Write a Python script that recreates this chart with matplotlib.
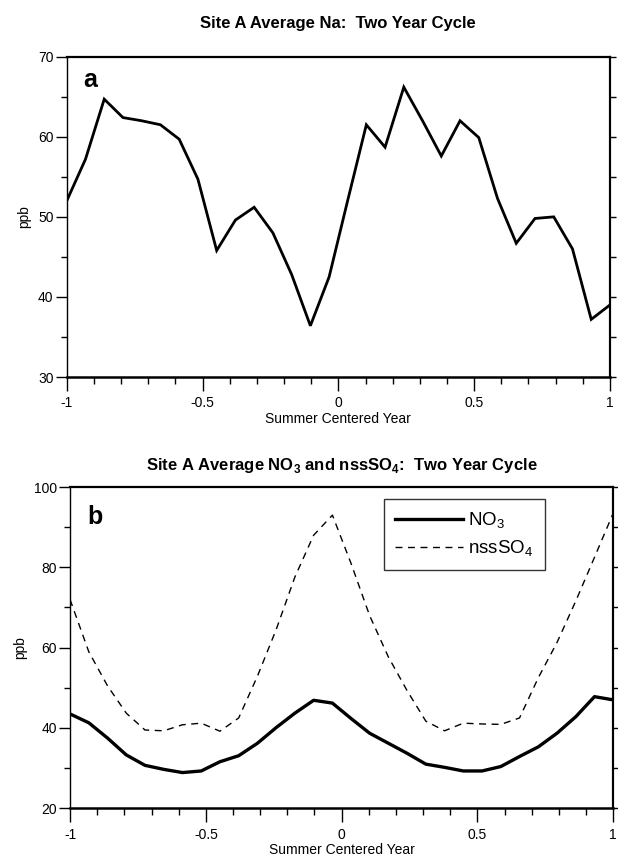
import numpy as np
import matplotlib
matplotlib.use("Agg")
import matplotlib.pyplot as plt
from matplotlib.ticker import MultipleLocator

plt.rcParams['font.family'] = ['Liberation Sans', 'DejaVu Sans']
plt.rcParams['mathtext.fontset'] = 'custom'
plt.rcParams['mathtext.rm'] = 'Liberation Sans'
plt.rcParams['mathtext.bf'] = 'Liberation Sans:bold'

# summer centered year, 30 samples over the two year cycle
year = [-1.0, -0.931, -0.862, -0.793, -0.724, -0.655, -0.586, -0.517, -0.448, -0.379,
        -0.310, -0.241, -0.172, -0.103, -0.034, 0.034, 0.103, 0.172, 0.241, 0.310,
        0.379, 0.448, 0.517, 0.586, 0.655, 0.724, 0.793, 0.862, 0.931, 1.0]

# site A average Na (ppb)
na = [52.0, 57.2, 64.7, 62.4, 62.0, 61.5, 59.7, 54.7, 45.8, 49.6,
      51.2, 48.0, 42.8, 36.4, 42.5, 52.0, 61.5, 58.7, 66.2, 62.0,
      57.6, 62.0, 59.9, 52.3, 46.7, 49.8, 50.0, 46.0, 37.2, 39.0]

# site A average NO3 and nssSO4 (ppb)
no3 = [43.5, 41.3, 37.5, 33.3, 30.7, 29.7, 28.9, 29.3, 31.6, 33.1,
       36.2, 40.1, 43.7, 46.9, 46.2, 42.4, 38.7, 36.2, 33.7, 31.0,
       30.2, 29.3, 29.3, 30.4, 32.9, 35.3, 38.7, 42.8, 47.8, 47.0]
nsso4 = [72.0, 59.0, 50.5, 43.7, 39.5, 39.3, 40.8, 41.2, 39.2, 42.5,
         52.9, 64.5, 77.6, 88.0, 93.0, 81.1, 68.0, 57.7, 49.3, 41.7,
         39.3, 41.2, 41.0, 40.9, 42.5, 52.5, 61.3, 71.6, 82.5, 93.5]

fig = plt.figure(figsize=(6.18, 8.58), dpi=100)
ax1 = fig.add_axes([0.108, 0.5606, 0.879, 0.3733])
ax2 = fig.add_axes([0.1133, 0.0579, 0.879, 0.3745])


def style_axes(ax, ymin, ymax, ystep):
    ax.set_xlim(-1, 1)
    ax.set_ylim(ymin, ymax)
    ax.xaxis.set_minor_locator(MultipleLocator(0.1))
    ax.yaxis.set_major_locator(MultipleLocator(ystep))
    ax.yaxis.set_minor_locator(MultipleLocator(ystep / 2))
    ax.set_xticks([-1, -0.5, 0, 0.5, 1])
    ax.set_xticklabels(['-1', '-0.5', '0', '0.5', '1'])
    ax.tick_params(axis='x', which='major', direction='out', length=10, width=1, labelsize=10, pad=4)
    ax.tick_params(axis='x', which='minor', direction='out', length=5, width=1)
    ax.tick_params(axis='y', which='major', direction='out', length=8, width=1, labelsize=10, pad=1.5)
    ax.tick_params(axis='y', which='minor', direction='out', length=4, width=1)
    ax.spines['left'].set_linewidth(1.0)
    ax.spines['right'].set_linewidth(1.5)
    ax.spines['top'].set_linewidth(1.6)
    ax.spines['bottom'].set_linewidth(1.8)
    # unlabeled ticks along the right edge
    sec = ax.secondary_yaxis('right')
    sec.set_yticks(np.arange(ymin, ymax + 0.1, ystep / 2))
    sec.tick_params(direction='out', length=4, width=1, labelright=False)
    sec.spines['right'].set_linewidth(1.5)
    ax.set_ylabel('ppb', fontsize=10, labelpad=5)
    ax.set_xlabel('Summer Centered Year', fontsize=10, labelpad=1)


# panel a
ax1.plot(year, na, color='black', lw=2.0, solid_joinstyle='miter')
style_axes(ax1, 30, 70, 10)
ax1.text(0.03, 0.905, 'a', transform=ax1.transAxes, fontsize=18, fontweight='bold')
ax1.set_title('Site A Average Na:  Two Year Cycle', fontsize=12, fontweight='bold', pad=21)

# panel b
ax2.plot(year, no3, color='black', lw=2.4, label='NO$_3$')
ax2.plot(year, nsso4, color='black', lw=1.0, ls=(0, (5, 4)), label='nssSO$_4$')
style_axes(ax2, 20, 100, 20)
ax2.text(0.031, 0.885, 'b', transform=ax2.transAxes, fontsize=18, fontweight='bold')
ax2.set_title('Site A Average NO$_\\mathbf{3}$ and nssSO$_\\mathbf{4}$:  Two Year Cycle',
              fontsize=12, fontweight='bold', pad=12)
leg = ax2.legend(loc='upper right', bbox_to_anchor=(0.874, 0.962), fontsize=13.5,
                 frameon=True, fancybox=False, edgecolor='black', handlelength=3.6,
                 borderpad=0.6, labelspacing=0.4, handletextpad=0.3, borderaxespad=0)
leg.get_frame().set_linewidth(1.0)

fig.savefig('out.png', dpi=100)
